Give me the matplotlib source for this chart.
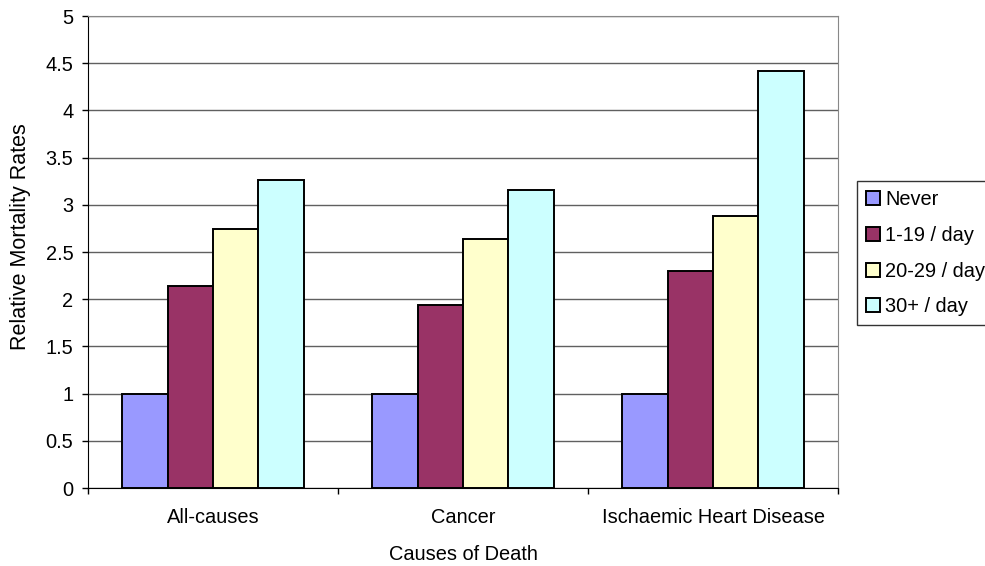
import numpy as np
import matplotlib.pyplot as plt

plt.rcParams['font.family'] = ['Liberation Sans', 'DejaVu Sans']

causes = ['All-causes', 'Cancer', 'Ischaemic Heart Disease']
groups = ['Never', '1-19 / day', '20-29 / day', '30+ / day']
never = [1.0, 1.0, 1.0]
light = [2.14, 1.94, 2.30]
medium = [2.74, 2.64, 2.88]
heavy = [3.26, 3.16, 4.42]
colors = ['#9999FF', '#993366', '#FFFFCC', '#CCFFFF']

fs = 14.4

fig = plt.figure(figsize=(9.85, 5.66), dpi=100)
ax = fig.add_axes([88/985, 1 - 488/566, 750/985, 472/566])

# Excel-style gap width 150% -> each bar is 1/5.5 of a category
w = 1 / 5.5
x = np.arange(len(causes))
for i, (vals, lab) in enumerate(zip([never, light, medium, heavy], groups)):
    ax.bar(x + (i - 1.5) * w, vals, width=w, color=colors[i], edgecolor='black',
           linewidth=1.4, label=lab, zorder=3)

ax.set_xlim(-0.5, 2.5)
ax.set_ylim(0, 5)
ax.set_yticks(np.arange(0, 5.01, 0.5))
ax.set_yticklabels(['0', '0.5', '1', '1.5', '2', '2.5', '3', '3.5', '4', '4.5', '5'])
ax.yaxis.grid(True, color='#606060', linewidth=1)
ax.set_axisbelow(True)

# category labels centred, tick marks on category boundaries
ax.set_xticks([-0.5, 0.5, 1.5, 2.5])
ax.set_xticklabels([])
ax.set_xticks(x, minor=True)
ax.set_xticklabels(causes, minor=True)
ax.tick_params(axis='x', which='minor', length=0, pad=14.5, labelsize=fs)
ax.tick_params(axis='x', which='major', length=4, width=1, color='black')
ax.tick_params(axis='y', length=4, width=1, labelsize=fs, pad=6.5)

for side in ['top', 'right']:
    ax.spines[side].set_color('#888888')
ax.spines['left'].set_color('black')
ax.spines['bottom'].set_color('black')

ax.set_xlabel('Causes of Death', fontsize=fs, labelpad=13)
ax.set_ylabel('Relative Mortality Rates', fontsize=15.5)
ax.yaxis.set_label_coords((31 - 88) / 750, (488 - 237) / 472)

leg = fig.legend(loc='upper left', bbox_to_anchor=(857/985, 1 - 181/566),
                 fontsize=fs, frameon=True, fancybox=False, borderaxespad=0,
                 handlelength=0.7, handleheight=0.7, handletextpad=0.25,
                 labelspacing=0.84, borderpad=0.45)
leg.get_frame().set_edgecolor('black')
leg.get_frame().set_linewidth(1)

plt.savefig('out.png', dpi=100)
